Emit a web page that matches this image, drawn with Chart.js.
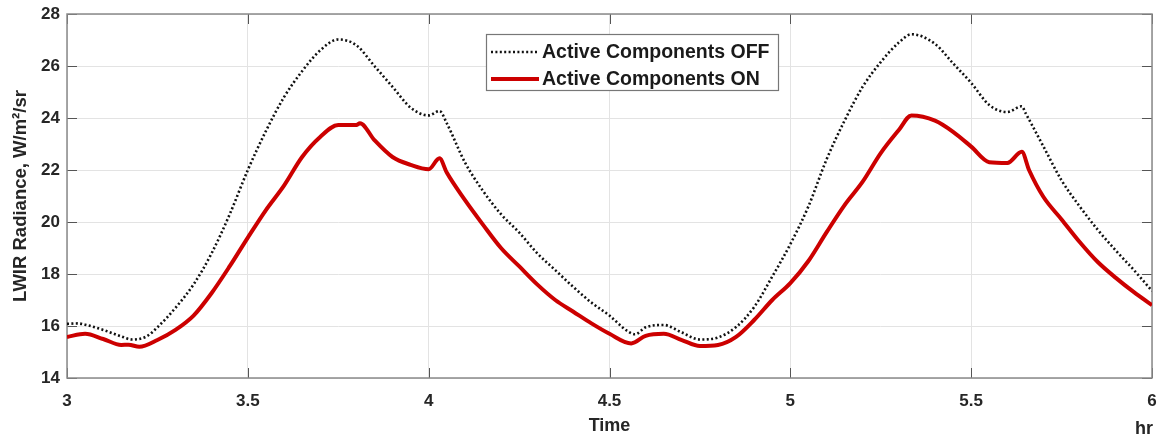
<!DOCTYPE html>
<html>
<head>
<meta charset="utf-8">
<script src="https://cdn.jsdelivr.net/npm/chart.js@4.4.1/dist/chart.umd.min.js"></script>
<style>
  body { margin: 0; background: #fff; }
  #wrap { width: 1163px; height: 437px; }
</style>
</head>
<body>
<div id="wrap"><canvas id="radChart"></canvas></div>
<script>
// time in hr, radiance in W/m2/sr
const offTimes = [3.0, 3.03, 3.05, 3.1, 3.15, 3.18, 3.22, 3.25, 3.3, 3.35, 3.4, 3.45, 3.5, 3.55, 3.6, 3.65, 3.7, 3.75, 3.8, 3.85, 3.9, 3.95, 4.0, 4.03, 4.05, 4.1, 4.15, 4.2, 4.25, 4.3, 4.35, 4.4, 4.45, 4.5, 4.55, 4.57, 4.6, 4.65, 4.7, 4.75, 4.8, 4.85, 4.9, 4.95, 5.0, 5.05, 5.1, 5.15, 5.2, 5.25, 5.3, 5.335, 5.4, 5.45, 5.5, 5.55, 5.6, 5.64, 5.65, 5.7, 5.75, 5.8, 5.85, 5.9, 5.95, 6.0];
const offValues = [16.08, 16.1, 16.05, 15.85, 15.6, 15.48, 15.6, 15.95, 16.7, 17.6, 18.8, 20.3, 22.0, 23.5, 24.8, 25.8, 26.6, 27.02, 26.8, 26.0, 25.2, 24.4, 24.1, 24.27, 23.8, 22.3, 21.2, 20.3, 19.6, 18.8, 18.15, 17.5, 16.9, 16.4, 15.8, 15.68, 15.95, 16.04, 15.75, 15.48, 15.56, 15.96, 16.73, 17.9, 19.15, 20.6, 22.4, 23.9, 25.2, 26.15, 26.9, 27.22, 26.85, 26.1, 25.35, 24.5, 24.23, 24.45, 24.2, 22.9, 21.6, 20.6, 19.7, 18.9, 18.15, 17.35];

const onTimes = [3.0, 3.05, 3.1, 3.15, 3.17, 3.2, 3.25, 3.3, 3.35, 3.4, 3.45, 3.5, 3.55, 3.6, 3.65, 3.7, 3.75, 3.8, 3.81, 3.85, 3.9, 3.95, 4.0, 4.03, 4.05, 4.1, 4.15, 4.2, 4.25, 4.3, 4.35, 4.4, 4.45, 4.5, 4.56, 4.6, 4.65, 4.7, 4.75, 4.8, 4.85, 4.9, 4.95, 5.0, 5.05, 5.1, 5.15, 5.2, 5.25, 5.3, 5.335, 5.4, 5.45, 5.5, 5.55, 5.6, 5.64, 5.66, 5.7, 5.75, 5.8, 5.85, 5.9, 5.95, 6.0];
const onValues = [15.58, 15.7, 15.5, 15.27, 15.28, 15.2, 15.46, 15.85, 16.4, 17.27, 18.3, 19.4, 20.46, 21.4, 22.5, 23.27, 23.73, 23.73, 23.8, 23.15, 22.5, 22.2, 22.03, 22.45, 21.9, 20.85, 19.9, 19.0, 18.3, 17.6, 17.0, 16.55, 16.1, 15.7, 15.33, 15.62, 15.7, 15.46, 15.23, 15.27, 15.58, 16.23, 17.0, 17.65, 18.5, 19.6, 20.65, 21.55, 22.65, 23.54, 24.1, 23.9, 23.47, 22.9, 22.3, 22.27, 22.7, 22.0, 20.96, 20.1, 19.23, 18.46, 17.85, 17.3, 16.8];

const seriesLabels = ["Active Components OFF", "Active Components ON"];
const xTitle = "Time";
const xUnit = "hr";
const yTitle = "LWIR Radiance, W/m\u00B2/sr";

const FONT = "'Liberation Sans', Arial, sans-serif";

function toPoints(ts, vs) {
  return ts.map((t, i) => ({ x: t, y: vs[i] }));
}

// matlab style box: top/right border and inward tick marks
const matlabBox = {
  id: "matlabBox",
  beforeDatasetsDraw(chart) {
    const { ctx, chartArea: a, scales } = chart;
    ctx.save();
    ctx.strokeStyle = "#555";
    ctx.lineWidth = 1;
    const len = 10;
    ctx.beginPath();
    scales.x.ticks.forEach((t) => {
      const px = Math.round(scales.x.getPixelForValue(t.value)) + 0.5;
      ctx.moveTo(px, a.bottom);
      ctx.lineTo(px, a.bottom - len);
      ctx.moveTo(px, a.top);
      ctx.lineTo(px, a.top + len);
    });
    scales.y.ticks.forEach((t) => {
      const py = Math.round(scales.y.getPixelForValue(t.value)) + 0.5;
      ctx.moveTo(a.left, py);
      ctx.lineTo(a.left + len, py);
      ctx.moveTo(a.right, py);
      ctx.lineTo(a.right - len, py);
    });
    ctx.stroke();
    ctx.strokeStyle = "#8a8a8a";
    ctx.lineWidth = 1.5;
    ctx.strokeRect(a.left, a.top, a.right - a.left, a.bottom - a.top);
    ctx.restore();
  },
  afterDraw(chart) {
    const { ctx, chartArea: a } = chart;
    ctx.save();
    // unit label under the last tick
    ctx.font = "bold 18px " + FONT;
    ctx.fillStyle = "#262626";
    ctx.textAlign = "right";
    ctx.textBaseline = "alphabetic";
    ctx.fillText(xUnit, a.right + 1, 434);

    // legend box
    const bx = a.left + 419, by = 34, bw = 292, bh = 56;
    ctx.fillStyle = "#fff";
    ctx.fillRect(bx, by, bw, bh);
    ctx.strokeStyle = "#777";
    ctx.lineWidth = 1.2;
    ctx.strokeRect(bx + 0.5, by + 0.5, bw, bh);
    chart.data.datasets.forEach((ds, i) => {
      const cy = by + 18 + i * 27;
      ctx.save();
      ctx.strokeStyle = ds.borderColor;
      ctx.lineWidth = ds.borderWidth;
      ctx.setLineDash(ds.borderDash || []);
      ctx.beginPath();
      ctx.moveTo(bx + 5, cy);
      ctx.lineTo(bx + 53, cy);
      ctx.stroke();
      ctx.restore();
      ctx.fillStyle = "#1a1a1a";
      ctx.font = "bold 19.5px " + FONT;
      ctx.textAlign = "left";
      ctx.textBaseline = "middle";
      ctx.fillText(ds.label, bx + 56, cy + 1);
    });
    ctx.restore();
  },
};

const ctx = document.getElementById("radChart").getContext("2d");
new Chart(ctx, {
  type: "line",
  data: {
    datasets: [
      {
        label: seriesLabels[0],
        data: toPoints(offTimes, offValues),
        borderColor: "#111111",
        borderWidth: 2.6,
        borderDash: [2, 2.4],
        pointRadius: 0,
        cubicInterpolationMode: "monotone",
        fill: false,
      },
      {
        label: seriesLabels[1],
        data: toPoints(onTimes, onValues),
        borderColor: "#cc0000",
        borderWidth: 4,
        pointRadius: 0,
        cubicInterpolationMode: "monotone",
        fill: false,
      },
    ],
  },
  options: {
    responsive: true,
    maintainAspectRatio: false,
    animation: false,
    layout: { padding: { left: 0, right: 11, top: 14, bottom: 0 } },
    plugins: {
      legend: { display: false },
      tooltip: { enabled: false },
    },
    scales: {
      x: {
        type: "linear",
        min: 3,
        max: 6,
        afterFit: (s) => {
          s.height = 59;
          s.paddingLeft = 0;
          s.paddingRight = 0;
        },
        ticks: {
          stepSize: 0.5,
          padding: 13,
          maxRotation: 0,
          color: "#262626",
          font: { family: FONT, size: 17, weight: "bold" },
          callback: (v) => String(v),
        },
        grid: { color: "#e3e3e3", lineWidth: 1, drawTicks: false },
        border: { display: false },
        title: {
          display: true,
          text: xTitle,
          color: "#262626",
          font: { family: FONT, size: 18, weight: "bold" },
          padding: { top: 0, bottom: 0 },
        },
      },
      y: {
        min: 14,
        max: 28,
        afterFit: (s) => {
          s.width = 67;
          s.paddingTop = 0;
          s.paddingBottom = 0;
        },
        ticks: {
          stepSize: 2,
          padding: 7,
          color: "#262626",
          font: { family: FONT, size: 17, weight: "bold" },
        },
        grid: { color: "#e3e3e3", lineWidth: 1, drawTicks: false },
        border: { display: false },
        title: {
          display: true,
          text: yTitle,
          color: "#262626",
          font: { family: FONT, size: 18.5, weight: "bold" },
          padding: { top: 10, bottom: 0 },
        },
      },
    },
  },
  plugins: [matlabBox],
});
</script>
</body>
</html>
